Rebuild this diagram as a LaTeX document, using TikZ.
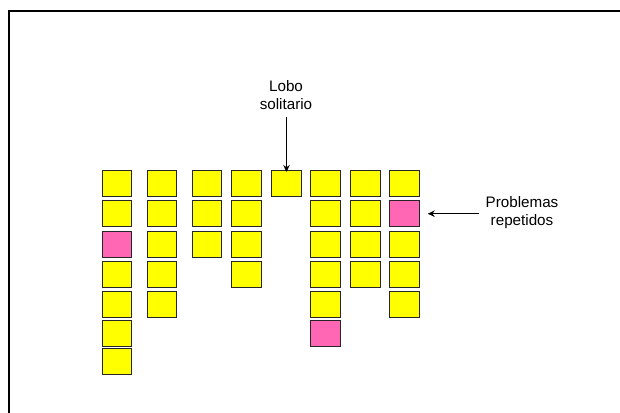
\documentclass[tikz,border=0pt]{standalone}
\usepackage{fontspec}
\setmainfont{Liberation Sans}
\usetikzlibrary{arrows.meta}
\definecolor{notey}{HTML}{FFFF00}
\definecolor{notep}{HTML}{FF66B3}
\tikzset{
  note/.style={draw=black!85, line width=1pt, fill=notey, minimum width=29.5pt, minimum height=26pt, inner sep=0pt},
  hot/.style={note, fill=notep},
  lbl/.style={align=center, font=\fontsize{15.2}{18}\selectfont, inner sep=0pt},
  pointer/.style={line width=1.3pt, -{Stealth[length=7pt,width=6.5pt]}}
}
\begin{document}
\begin{tikzpicture}[x=1pt,y=-1pt]
\useasboundingbox (0,0) rectangle (620,412);
% frame
\draw[line width=1.4pt] (9,430) -- (9,11) -- (640,11);
% columns of notes: column index / x centre / number of notes
\foreach \c/\x/\n in {1/117/7, 2/162/5, 3/207/3, 4/246.7/4, 5/286.5/1, 6/325.5/6, 7/365.3/4, 8/404.5/5}{
  \foreach \r/\y in {1/183.5, 2/213.7, 3/244, 4/274, 5/304.5, 6/333, 7/361}{
    \ifnum\r>\n\relax\else
      \node[note] (s-\c-\r) at (\x,\y) {};
    \fi
  }
}
% repeated problems highlighted
\node[hot] at (s-1-3) {};
\node[hot] at (s-6-6) {};
\node[hot] at (s-8-2) {};
% labels and pointers
\node[lbl] (lobo) at (286,95) {Lobo\\solitario};
\node[lbl] (rep) at (522,213) {Problemas\\repetidos};
\coordinate (lt) at (286.5,117);
\coordinate (rt) at (479,213.7);
\draw[pointer] (lt) -- ([yshift=-2pt]s-5-1.north);
\draw[pointer] (rt) -- ([xshift=8pt]s-8-2.east);
\end{tikzpicture}
\end{document}
